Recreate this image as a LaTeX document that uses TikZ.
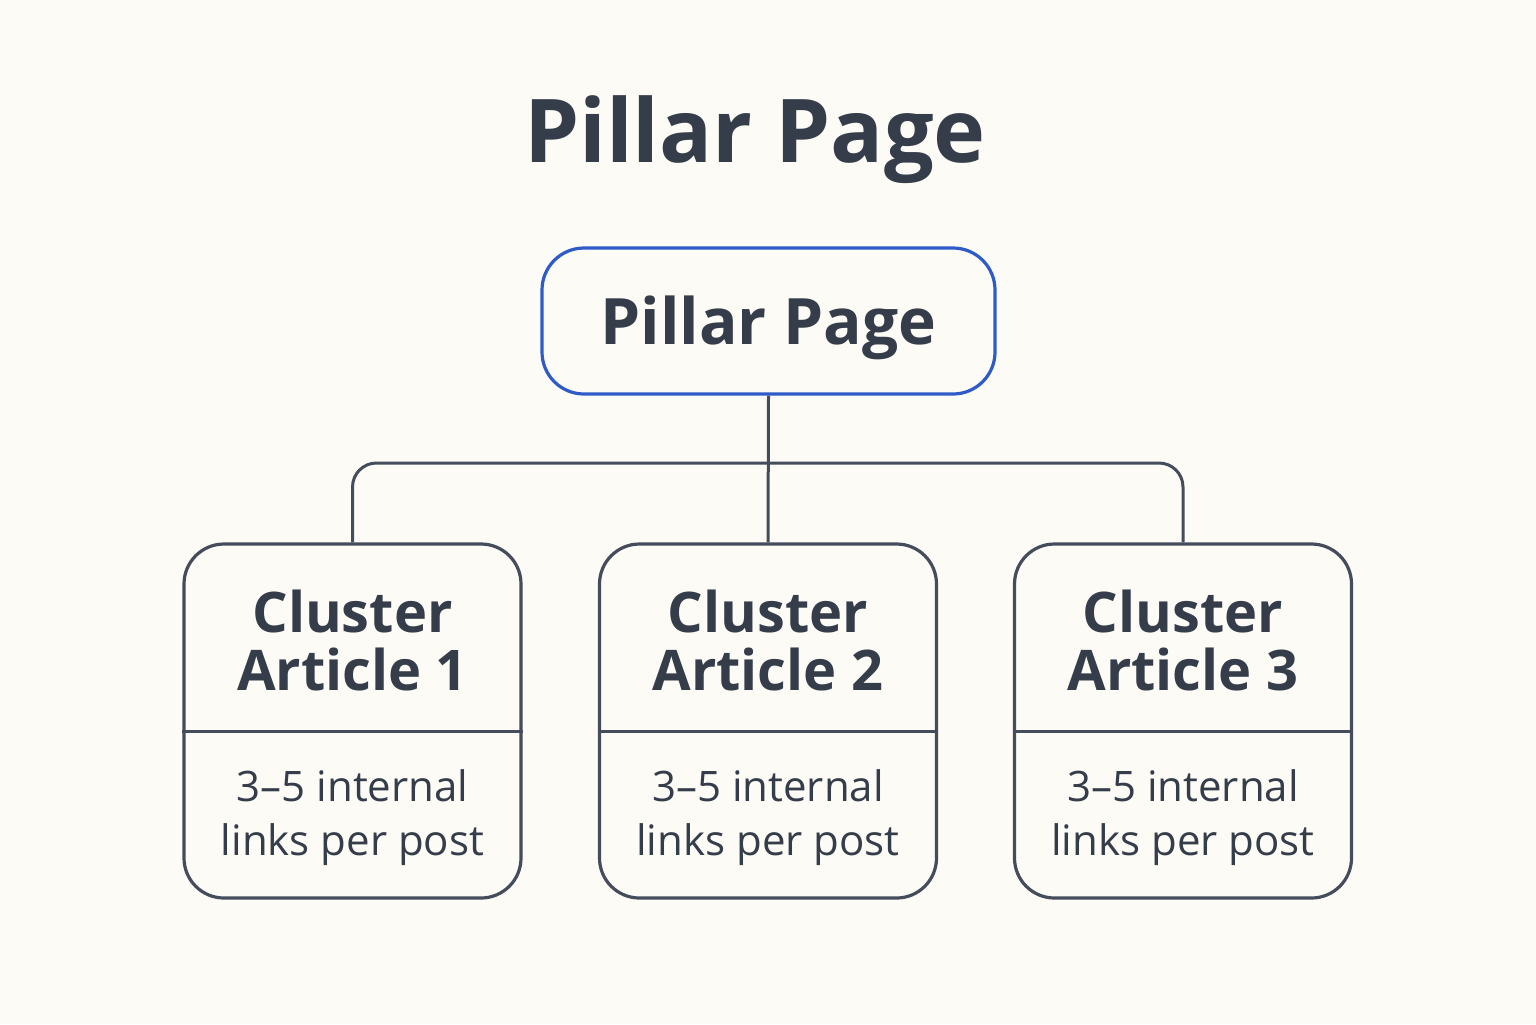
\documentclass[tikz,border=0pt]{standalone}
\usepackage{fontspec}
\setmainfont{Open Sans}
\definecolor{bg}{HTML}{FCFBF6}
\definecolor{ink}{HTML}{363D4A}
\definecolor{edge}{HTML}{454C5C}
\definecolor{blu}{HTML}{2F5BC8}
\begin{document}
\begin{tikzpicture}[x=0.5pt,y=-0.5pt,
  box/.style={draw=edge,line width=1.6pt,rounded corners=20pt,fill=bg},
  conn/.style={draw=edge,line width=1.5pt},
  ctitle/.style={text=ink,font=\fontsize{28}{32}\selectfont\bfseries,align=center},
  cbody/.style={text=ink,font=\fontsize{21}{27}\selectfont,align=center}]
\fill[bg] (0,0) rectangle (1536,1024);
\useasboundingbox (0,0) rectangle (1536,1024);
\node[text=ink,font=\fontsize{44}{46}\selectfont\bfseries] (title) at (755,140) {Pillar Page};
\node[draw=blu,line width=1.6pt,rounded corners=21pt,fill=bg,minimum width=226.5pt,minimum height=73pt,
  text=ink,font=\fontsize{32}{34}\selectfont\bfseries] (pillar) at (768.5,321) {};
\node[text=ink,font=\fontsize{32}{34}\selectfont\bfseries] (ptext) at (768.5,328) {Pillar Page};
\foreach \i/\x in {1/352.5,2/768,3/1183} {
  \node[box,minimum width=168.5pt,minimum height=177pt] (c\i) at (\x,721) {};
  \draw[conn] (c\i.west |- 0,731) -- (c\i.east |- 0,731);
  \node[ctitle] (t\i) at (\x,640) {Cluster\\[-3pt]Article \i};
  \node[cbody] (b\i) at (\x,818) {3–5 internal\\links per post};
}
\coordinate (j) at (768,463);
\draw[conn] (pillar.south) -- (c2.north);
\draw[conn,rounded corners=12pt] (c1.north) -- (c1.north |- j) -- (c3.north |- j) -- (c3.north);
\end{tikzpicture}
\end{document}
